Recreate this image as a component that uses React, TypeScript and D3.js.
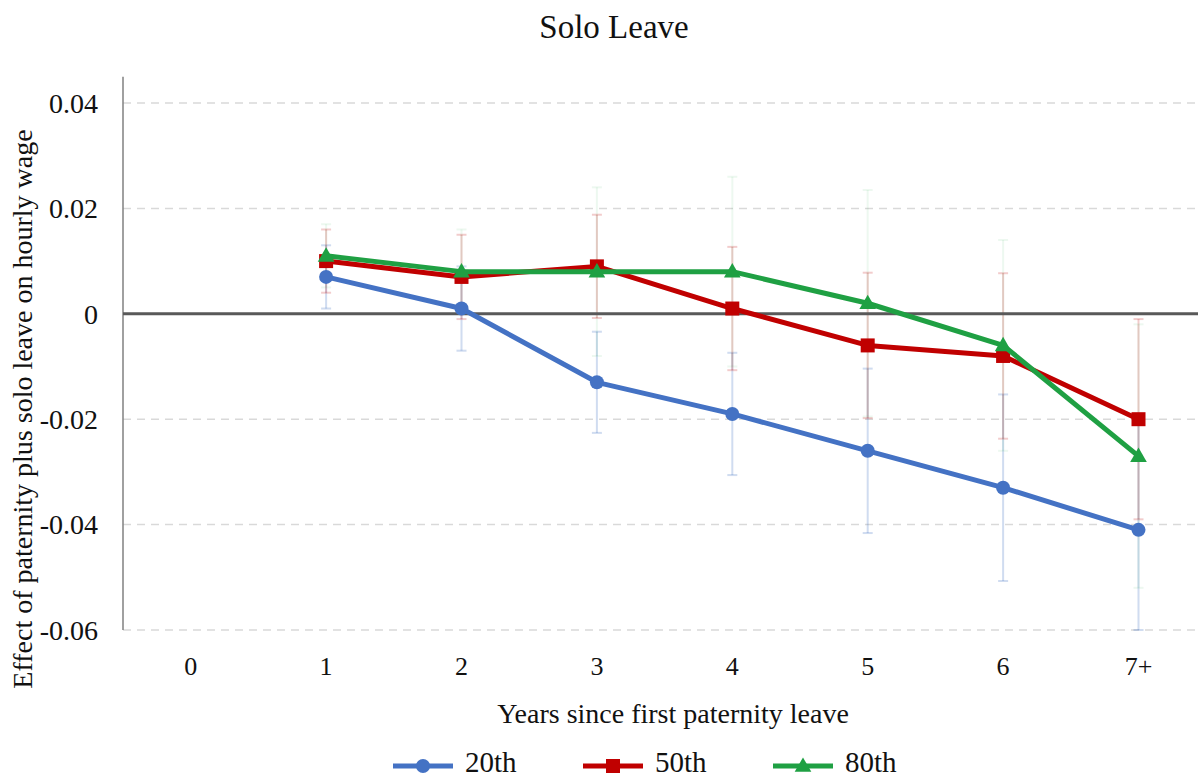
import React, { useEffect, useRef } from 'react';
import * as d3 from 'd3';

const categories = ['0', '1', '2', '3', '4', '5', '6', '7+'];
const pointYears = ['1', '2', '3', '4', '5', '6', '7+'];
const yTicks = [0.04, 0.02, 0, -0.02, -0.04, -0.06];

const p20 = [0.007, 0.001, -0.013, -0.019, -0.026, -0.033, -0.041];
const p50 = [0.010, 0.007, 0.009, 0.001, -0.006, -0.008, -0.020];
const p80 = [0.011, 0.008, 0.008, 0.008, 0.002, -0.006, -0.027];

// half-width of the confidence interval around each point
const err20 = [0.006, 0.008, 0.0096, 0.0116, 0.0156, 0.0177, 0.021];
const err50 = [0.006, 0.008, 0.0098, 0.0117, 0.0138, 0.0157, 0.019];
const err80 = [0.006, 0.008, 0.016, 0.018, 0.0215, 0.02, 0.025];

const FONT = '"Liberation Serif", "Times New Roman", serif';

const SERIES = [
  { name: '20th', values: p20, errors: err20, color: '#4472C4', bar: 'rgba(68,114,196,0.25)', marker: 'circle' },
  { name: '50th', values: p50, errors: err50, color: '#C00000', bar: 'rgba(192,0,0,0.2)', marker: 'square' },
  { name: '80th', values: p80, errors: err80, color: '#1FA043', bar: 'rgba(31,160,67,0.08)', marker: 'triangle' }
];

function drawMarker(g, type, cx, cy, color) {
  if (type === 'circle') {
    g.append('circle').attr('cx', cx).attr('cy', cy).attr('r', 7).attr('fill', color);
  } else if (type === 'square') {
    g.append('rect').attr('x', cx - 7).attr('y', cy - 7).attr('width', 14).attr('height', 14).attr('fill', color);
  } else {
    const sym = d3.symbol().type(d3.symbolTriangle).size(120);
    g.append('path').attr('d', sym()).attr('transform', `translate(${cx},${cy + 1})`).attr('fill', color);
  }
}

function drawChart(node) {
  const width = 1198;
  const height = 780;
  const left = 123;
  const right = 1198;
  const root = d3.select(node);
  root.selectAll('*').remove();

  const svg = root.append('svg')
    .attr('width', width)
    .attr('height', height)
    .attr('viewBox', `0 0 ${width} ${height}`)
    .style('display', 'block')
    .style('font-family', FONT);

  svg.append('rect').attr('width', width).attr('height', height).attr('fill', '#fff');

  const x = d3.scaleBand().domain(categories).range([left, left + 135.4 * categories.length]);
  const cx = (c) => x(c) + x.bandwidth() / 2;
  const y = d3.scaleLinear().domain([-0.06, 0.04]).range([630, 103]);

  // title
  svg.append('text')
    .attr('x', 614)
    .attr('y', 38)
    .attr('text-anchor', 'middle')
    .attr('font-size', 33)
    .attr('fill', '#111')
    .text('Solo Leave');

  // grid
  svg.append('g')
    .selectAll('line')
    .data(yTicks.filter((t) => t !== 0))
    .join('line')
    .attr('x1', left)
    .attr('x2', right)
    .attr('y1', (t) => y(t))
    .attr('y2', (t) => y(t))
    .attr('stroke', '#d9d9d9')
    .attr('stroke-width', 1.5)
    .attr('stroke-dasharray', '8,6');

  // y axis
  svg.append('line')
    .attr('x1', left).attr('x2', left)
    .attr('y1', y(0.045)).attr('y2', y(-0.06))
    .attr('stroke', '#808080')
    .attr('stroke-width', 1.5);

  svg.append('g')
    .selectAll('text')
    .data(yTicks)
    .join('text')
    .attr('x', 98)
    .attr('y', (t) => y(t))
    .attr('dy', '0.35em')
    .attr('text-anchor', 'end')
    .attr('font-size', 28)
    .attr('fill', '#111')
    .text((t) => (t === 0 ? '0' : t.toFixed(2)));

  // x tick labels
  svg.append('g')
    .selectAll('text')
    .data(categories)
    .join('text')
    .attr('x', (c) => cx(c))
    .attr('y', 675)
    .attr('text-anchor', 'middle')
    .attr('font-size', 26)
    .attr('fill', '#111')
    .text((c) => c);

  // axis titles
  svg.append('text')
    .attr('x', 673)
    .attr('y', 723)
    .attr('text-anchor', 'middle')
    .attr('font-size', 28)
    .attr('fill', '#111')
    .text('Years since first paternity leave');

  svg.append('text')
    .attr('transform', 'translate(32,409) rotate(-90)')
    .attr('text-anchor', 'middle')
    .attr('font-size', 28)
    .attr('fill', '#111')
    .text('Effect of paternity plus solo leave on hourly wage');

  // error bars
  const bars = svg.append('g');
  SERIES.forEach((s) => {
    s.values.forEach((v, i) => {
      const px = cx(pointYears[i]);
      const hi = y(v + s.errors[i]);
      const lo = y(Math.max(v - s.errors[i], -0.06));
      bars.append('line').attr('x1', px).attr('x2', px).attr('y1', hi).attr('y2', lo)
        .attr('stroke', s.bar).attr('stroke-width', 2);
      [hi, lo].forEach((yy) => {
        bars.append('line').attr('x1', px - 5).attr('x2', px + 5).attr('y1', yy).attr('y2', yy)
          .attr('stroke', s.bar).attr('stroke-width', 2);
      });
    });
  });

  // zero line
  svg.append('line')
    .attr('x1', left).attr('x2', right)
    .attr('y1', y(0)).attr('y2', y(0))
    .attr('stroke', '#595959')
    .attr('stroke-width', 3);

  // series
  const line = d3.line().x((d) => cx(d.year)).y((d) => y(d.value));
  SERIES.forEach((s) => {
    const pts = s.values.map((value, i) => ({ year: pointYears[i], value }));
    const g = svg.append('g');
    g.append('path')
      .datum(pts)
      .attr('d', line)
      .attr('fill', 'none')
      .attr('stroke', s.color)
      .attr('stroke-width', 5)
      .attr('stroke-linejoin', 'round');
    pts.forEach((p) => drawMarker(g, s.marker, cx(p.year), y(p.value), s.color));
  });

  // legend
  const legend = svg.append('g');
  SERIES.forEach((s, i) => {
    const lx = 393 + i * 190;
    const ly = 766;
    legend.append('line')
      .attr('x1', lx).attr('x2', lx + 60)
      .attr('y1', ly).attr('y2', ly)
      .attr('stroke', s.color)
      .attr('stroke-width', 5);
    drawMarker(legend, s.marker, lx + 30, ly, s.color);
    legend.append('text')
      .attr('x', lx + 72)
      .attr('y', 772)
      .attr('font-size', 29)
      .attr('fill', '#111')
      .text(s.name);
  });
}

export default function App() {
  const ref = useRef(null);

  useEffect(() => {
    drawChart(ref.current);
  }, []);

  return <div ref={ref} style={{ position: 'fixed', left: 0, top: 0 }} />;
}
